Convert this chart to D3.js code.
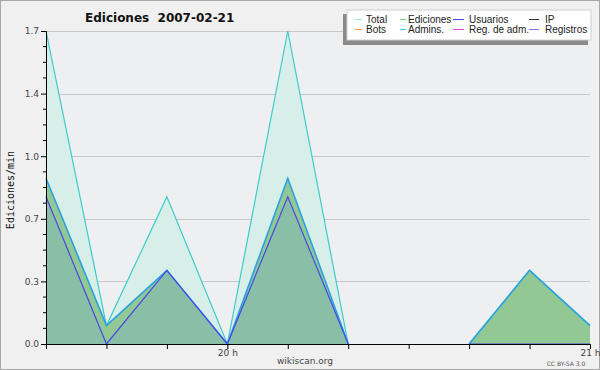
<!DOCTYPE html>
<html>
<head>
<meta charset="utf-8">
<script src="https://cdn.jsdelivr.net/npm/d3@7"></script>
<style>
  body { margin: 0; background: #f0f0f0; }
  svg { display: block; font-family: "DejaVu Sans", sans-serif; }
</style>
</head>
<body>
<div id="chart"></div>
<script>
/* Ediciones 2007-02-21, edits per minute (10 min steps) */

const times = ["19:30", "19:40", "19:50", "20:00", "20:10", "20:20", "20:30", "20:40", "20:50", "21:00"];
const total = [1.7, 0.1, 0.8, 0, 1.7, 0, null, 0, 0.4, 0.1];
const ediciones = [0.9, 0.1, 0.4, 0, 0.9, 0, null, 0, 0.4, 0.1];
const usuarios = [0.8, 0, 0.4, 0, 0.8, 0, null, 0, 0, 0];

const yTicks = [0, 0.34, 0.68, 1.02, 1.36, 1.7];
const xLabels = ["20:00", "21:00"];

const legendItems = [
  ["Total", "#9fe6e6"], ["Ediciones", "#77cc77"], ["Usuarios", "#4444ee"], ["IP", "#333333"],
  ["Bots", "#ff9933"], ["Admins.", "#33ccdd"], ["Reg. de adm.", "#dd44dd"], ["Registros", "#7777ff"]
];

const W = 600, H = 370;
const margin = { top: 31, right: 10, bottom: 26, left: 46 };

const parse = d3.timeParse("%Y-%m-%d %H:%M");
const dates = times.map(t => parse("2007-02-21 " + t));
const rows = dates.map((d, i) => ({ t: d, total: total[i], ed: ediciones[i], us: usuarios[i] }));

const svg = d3.select("#chart").append("svg")
  .attr("width", W)
  .attr("height", H);

svg.append("rect")
  .attr("x", 0.5).attr("y", 0.5)
  .attr("width", W - 1).attr("height", H - 1)
  .attr("fill", "#f0f0f0")
  .attr("stroke", "#a8a8a8");

const x = d3.scaleTime()
  .domain(d3.extent(dates))
  .range([margin.left, W - margin.right]);

const y = d3.scaleLinear()
  .domain([0, 1.7])
  .range([H - margin.bottom, margin.top]);

// plot background
svg.append("rect")
  .attr("x", margin.left).attr("y", margin.top)
  .attr("width", W - margin.left - margin.right)
  .attr("height", H - margin.top - margin.bottom)
  .attr("fill", "#eeeff1");

// Grid lines
svg.append("g")
  .selectAll("line")
  .data(yTicks.slice(1))
  .join("line")
  .attr("x1", margin.left).attr("x2", W - margin.right)
  .attr("y1", d => Math.round(y(d)) + 0.5).attr("y2", d => Math.round(y(d)) + 0.5)
  .attr("stroke", "#c8c8c8");

// Areas
const def = k => d => d[k] !== null;
const area = k => d3.area().defined(def(k)).x(d => x(d.t)).y0(y(0)).y1(d => y(d[k]));
const line = k => d3.line().defined(def(k)).x(d => x(d.t)).y(d => y(d[k]));

svg.append("path").datum(rows).attr("d", area("total")).attr("fill", "#d8efe9");
svg.append("path").datum(rows).attr("d", area("ed")).attr("fill", "#92c894");
svg.append("path").datum(rows).attr("d", area("us")).attr("fill", "#88bfa6");

svg.append("path").datum(rows).attr("d", line("total"))
  .attr("fill", "none").attr("stroke", "#3ccccc").attr("stroke-width", 1.2);
svg.append("path").datum(rows).attr("d", line("ed"))
  .attr("fill", "none").attr("stroke", "#2aa2e0").attr("stroke-width", 1.6);
svg.append("path").datum(rows).attr("d", line("us"))
  .attr("fill", "none").attr("stroke", "#4848e8").attr("stroke-width", 1.2);

// Y axis
const yAxis = svg.append("g")
  .attr("transform", `translate(${margin.left},0)`)
  .call(d3.axisLeft(y).tickValues(yTicks).tickFormat(d3.format(".1f")).tickSize(5).tickPadding(2))
  .call(g => g.select(".domain").attr("stroke", "#000"))
  .call(g => g.selectAll("text").attr("fill", "#444").attr("font-size", 9).attr("font-family", "DejaVu Sans"));

yAxis.selectAll(".minor")
  .data(d3.range(0, 21).map(i => i * 0.085).filter((d, i) => i % 4 !== 0))
  .join("line")
  .attr("class", "minor")
  .attr("x1", -3).attr("x2", 0)
  .attr("y1", d => y(d)).attr("y2", d => y(d))
  .attr("stroke", "#000");

// X axis
svg.append("g")
  .attr("transform", `translate(0,${H - margin.bottom})`)
  .call(d3.axisBottom(x).ticks(d3.timeMinute.every(10)).tickSize(5).tickPadding(1)
    .tickFormat(d => xLabels.includes(d3.timeFormat("%H:%M")(d)) ? d3.timeFormat("%H")(d) + " h" : ""))
  .call(g => g.select(".domain").attr("stroke", "#000"))
  .call(g => g.selectAll("text").attr("fill", "#444").attr("font-size", 9).attr("font-family", "DejaVu Sans"));

// Title and labels
svg.append("text")
  .attr("x", 85).attr("y", 22)
  .attr("font-size", 12)
  .attr("font-weight", "bold")
  .attr("fill", "#111")
  .attr("xml:space", "preserve")
  .text("Ediciones  2007-02-21");

svg.append("text")
  .attr("transform", "translate(14,190) rotate(-90)")
  .attr("text-anchor", "middle")
  .attr("font-family", "DejaVu Sans Mono")
  .attr("font-size", 10)
  .attr("fill", "#111")
  .text("Ediciones/min");

svg.append("text")
  .attr("x", 305).attr("y", 364)
  .attr("text-anchor", "middle")
  .attr("font-size", 9)
  .attr("fill", "#444")
  .text("wikiscan.org");

svg.append("text")
  .attr("x", 566).attr("y", 366)
  .attr("text-anchor", "middle")
  .attr("font-size", 6)
  .attr("fill", "#555")
  .text("CC BY-SA 3.0");

// Legend
const lg = svg.append("g");
lg.append("rect")
  .attr("x", 343).attr("y", 14).attr("width", 245).attr("height", 31)
  .attr("fill", "#8a8a8a");
lg.append("rect")
  .attr("x", 347).attr("y", 10).attr("width", 244).attr("height", 30)
  .attr("fill", "#fff").attr("stroke", "#d0d0d0");

const colLine = [355, 400, 453, 529];
const colLen = [7, 6, 11, 10];
const colText = [366, 408, 469, 545];
legendItems.forEach(([name, color], i) => {
  const c = i % 4, r = Math.floor(i / 4);
  const yy = 19 + r * 10;
  lg.append("line")
    .attr("x1", colLine[c]).attr("x2", colLine[c] + colLen[c])
    .attr("y1", yy + 0.5).attr("y2", yy + 0.5)
    .attr("stroke", color);
  lg.append("text")
    .attr("x", colText[c]).attr("y", yy + 3.5)
    .attr("font-family", "Liberation Sans")
    .attr("font-size", 10)
    .attr("fill", "#222")
    .text(name);
});
</script>
</body>
</html>
